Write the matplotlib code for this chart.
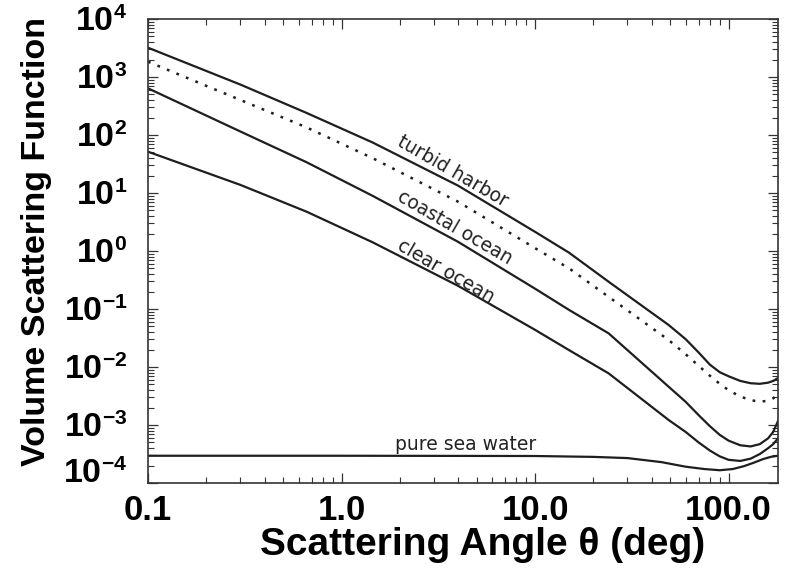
import matplotlib
matplotlib.use("Agg")
import matplotlib.pyplot as plt
import matplotlib._mathtext as _mt
from matplotlib.ticker import LogLocator, NullFormatter
from matplotlib.transforms import ScaledTranslation

# ---------------- data ----------------
theta = [0.1, 0.3, 0.66, 1.45, 4.0, 10, 15, 24, 49, 60, 70, 80, 90, 100,
         115, 130, 145, 160, 170, 180]
turbid_harbor = [3200, 741, 240, 74.1, 13.4, 2.14, 0.933, 0.295, 0.0530, 0.0302,
                 0.0178, 0.0110, 0.00813, 0.00692, 0.00575, 0.00525, 0.00513,
                 0.00537, 0.00575, 0.00646]
dotted_curve = [1837, 402, 135, 39.8, 7.08, 1.12, 0.501, 0.162, 0.0292, 0.0166,
                0.0105, 0.00708, 0.00513, 0.00398, 0.00309, 0.00269, 0.00251,
                0.00263, 0.00288, 0.00339]
coastal_ocean = [638, 115, 33.9, 8.91, 1.44, 0.224, 0.0962, 0.0380, 0.00457, 0.00251,
                 0.00148, 0.000955, 0.000676, 0.000537, 0.000447, 0.000427,
                 0.000468, 0.000589, 0.000759, 0.00117]
clear_ocean = [51.5, 13.8, 4.76, 1.41, 0.251, 0.0437, 0.0195, 0.00776, 0.00122,
               0.000759, 0.000501, 0.000363, 0.000288, 0.000251, 0.000240,
               0.000263, 0.000316, 0.000398, 0.000468, 0.000589]

theta_water = [0.1, 1, 10, 20, 30, 45, 60, 75, 90, 105, 120, 135, 150, 165, 180]
pure_sea_water = [2.95e-4, 2.95e-4, 2.92e-4, 2.82e-4, 2.69e-4, 2.29e-4, 1.91e-4, 1.74e-4,
                  1.66e-4, 1.74e-4, 1.95e-4, 2.24e-4, 2.57e-4, 2.82e-4, 2.95e-4]

x_ticks = [0.1, 1, 10, 100]
x_tick_labels = ["0.1", "1.0", "10.0", "100.0"]
y_exponents = [-4, -3, -2, -1, 0, 1, 2, 3, 4]

curve_labels = ["turbid harbor", "coastal ocean", "clear ocean", "pure sea water"]

# ---------------- styling ----------------
plt.rcParams["mathtext.fontset"] = "custom"
plt.rcParams["mathtext.rm"] = "Liberation Sans:bold"
plt.rcParams["mathtext.bf"] = "Liberation Sans:bold"
plt.rcParams["mathtext.it"] = "Liberation Sans:bold"
plt.rcParams["font.family"] = ["Liberation Sans", "DejaVu Sans"]
try:
    _mt.SHRINK_FACTOR = 0.62   # smaller exponents, as in the reference
except Exception:
    pass

W, H = 785, 573
fig = plt.figure(figsize=(W / 100, H / 100), dpi=100)
ax = fig.add_axes([148 / W, (H - 483) / H, 630 / W, 464 / H])

line_col = "#1e1e1e"
ax.plot(theta, turbid_harbor, color=line_col, lw=1.6)
ax.plot(theta, dotted_curve, color=line_col, lw=1.8, linestyle=(0, (1.1, 3.0)))
ax.plot(theta, coastal_ocean, color=line_col, lw=1.6)
ax.plot(theta, clear_ocean, color=line_col, lw=1.6)
ax.plot(theta_water, pure_sea_water, color=line_col, lw=1.6)

ax.set_xscale("log")
ax.set_yscale("log")
ax.set_xlim(0.1, 180)
ax.set_ylim(1e-4, 1e4)

ax.set_xticks(x_ticks)
ax.set_xticklabels(x_tick_labels, fontsize=25, fontweight="bold")
ax.set_yticks([10.0 ** e for e in y_exponents])
ax.set_yticklabels([r"$\mathbf{10^{%d}}$" % e for e in y_exponents], fontsize=24.5)
ax.xaxis.set_minor_locator(LogLocator(base=10, subs=range(2, 10), numticks=20))
ax.yaxis.set_minor_locator(LogLocator(base=10, subs=range(2, 10), numticks=20))
ax.xaxis.set_minor_formatter(NullFormatter())
ax.yaxis.set_minor_formatter(NullFormatter())

ax.tick_params(which="both", direction="in", top=True, right=True, color="#333333")
ax.tick_params(which="major", length=7, width=0.9)
ax.tick_params(which="minor", length=4, width=0.8)
ax.tick_params(axis="x", which="major", pad=8)
ax.tick_params(axis="y", which="major", pad=15)
for s in ax.spines.values():
    s.set_linewidth(1.2)
    s.set_color("#333333")

# lift the lowest y label slightly as in the reference
t0 = ax.yaxis.get_major_ticks()[0]
t0.label1.set_transform(t0.label1.get_transform() + ScaledTranslation(0, 12 / 100, fig.dpi_scale_trans))

ax.set_xlabel("Scattering Angle \u03b8 (deg)", fontsize=28, fontweight="bold")
ax.xaxis.set_label_coords((483 - 148) / 630, (483 - 545) / 464)
ax.xaxis.label.set_va("center")
ax.set_ylabel("Volume Scattering Function", fontsize=24.5, fontweight="bold")
ax.yaxis.set_label_coords((37 - 148) / 630, (483 - 242) / 464)
ax.yaxis.label.set_va("center")

# curve annotations (positions in data coords)
lab_kw = dict(fontsize=13.5, color="#222222", family="DejaVu Sans",
              ha="center", va="center", rotation_mode="anchor")
ax.text(3.75, 23.5, curve_labels[0], rotation=-30, **lab_kw)
ax.text(3.86, 2.57, curve_labels[1], rotation=-30, **lab_kw)
ax.text(3.45, 0.44, curve_labels[2], rotation=-30, **lab_kw)
ax.text(4.4, 4.6e-4, curve_labels[3], rotation=0, **lab_kw)

fig.savefig("out.png", dpi=100)
